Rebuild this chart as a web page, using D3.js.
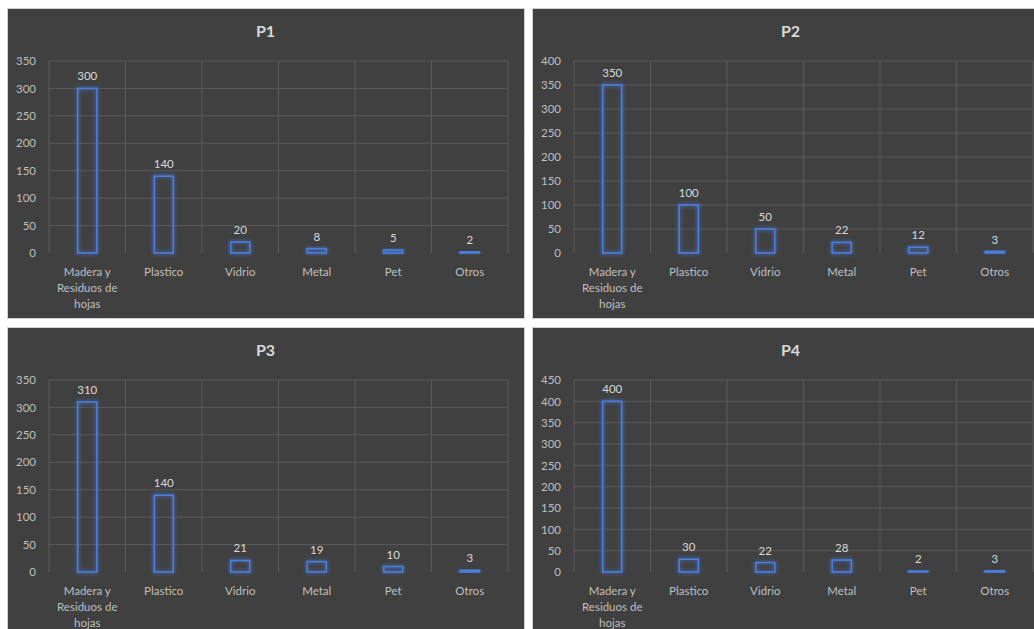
<!DOCTYPE html>
<html lang="es">
<head>
<meta charset="UTF-8">
<title>P1 - P4</title>
<script src="https://d3js.org/d3.v7.min.js"></script>
<style>
  body { margin: 0; background: #fff; }
  svg text { font-family: Lato, "Open Sans", sans-serif; }
</style>
</head>
<body>
<div id="chart"></div>
<script>
// data
const categories = ["Madera y Residuos de hojas", "Plastico", "Vidrio", "Metal", "Pet", "Otros"];
const panelTitles = ["P1", "P2", "P3", "P4"];
const p1Values = [300, 140, 20, 8, 5, 2];
const p2Values = [350, 100, 50, 22, 12, 3];
const p3Values = [310, 140, 21, 19, 10, 3];
const p4Values = [400, 30, 22, 28, 2, 3];
const yMaxes = [350, 400, 350, 450];
const tickStep = 50;

const seriesList = [p1Values, p2Values, p3Values, p4Values];

const W = 1034, H = 629;
const panelW = 517, panelH = 310;
const panelPos = [[7, 8], [532, 8], [7, 327], [532, 327]];
const margin = { left: 42, top: 53 };
const plotW = 459, plotH = 192;

const svg = d3.select("#chart").append("svg")
    .attr("width", W)
    .attr("height", H);

// blue glow for the bars
const defs = svg.append("defs");
const glow = defs.append("filter").attr("id", "glow")
    .attr("x", "-50%").attr("y", "-50%").attr("width", "200%").attr("height", "200%");
glow.append("feGaussianBlur").attr("in", "SourceGraphic").attr("stdDeviation", 2).attr("result", "blur");
const merge = glow.append("feMerge");
merge.append("feMergeNode").attr("in", "blur");
merge.append("feMergeNode").attr("in", "SourceGraphic");

function wrap(textSel, width) {
    textSel.each(function () {
        const text = d3.select(this);
        const words = text.text().split(/\s+/);
        const x = text.attr("x");
        const y = +text.attr("y");
        text.text(null);
        let line = [];
        let lineNo = 0;
        let tspan = text.append("tspan").attr("x", x).attr("y", y);
        words.forEach(function (w) {
            line.push(w);
            tspan.text(line.join(" "));
            if (tspan.node().getComputedTextLength() > width && line.length > 1) {
                line.pop();
                tspan.text(line.join(" "));
                line = [w];
                lineNo++;
                tspan = text.append("tspan").attr("x", x).attr("y", y + lineNo * 16).text(w);
            }
        });
    });
}

seriesList.forEach(function (values, i) {
    const [px, py] = panelPos[i];
    const panel = svg.append("g").attr("transform", `translate(${px},${py})`);

    panel.append("rect")
        .attr("x", 0.5).attr("y", 0.5)
        .attr("width", panelW).attr("height", panelH)
        .attr("fill", "#404040")
        .attr("stroke", "#d0d0d0");

    panel.append("text")
        .attr("x", panelW / 2)
        .attr("y", 29)
        .attr("text-anchor", "middle")
        .style("font-size", "16px")
        .style("font-weight", "bold")
        .style("fill", "#d9d9d9")
        .text(panelTitles[i]);

    const g = panel.append("g").attr("transform", `translate(${margin.left},${margin.top})`);

    const x = d3.scaleBand().domain(categories).range([0, plotW]).padding(0);
    const y = d3.scaleLinear().domain([0, yMaxes[i]]).range([plotH, 0]);
    const ticks = d3.range(0, yMaxes[i] + 1, tickStep);

    // gridlines
    g.selectAll(".hgrid")
        .data(ticks.filter(t => t > 0))
        .enter().append("line")
        .attr("x1", 0).attr("x2", plotW)
        .attr("y1", d => y(d)).attr("y2", d => y(d))
        .attr("stroke", "#5a5a5a").attr("stroke-width", 1);

    g.selectAll(".vgrid")
        .data(d3.range(categories.length + 1))
        .enter().append("line")
        .attr("x1", d => d * x.bandwidth()).attr("x2", d => d * x.bandwidth())
        .attr("y1", 0).attr("y2", plotH)
        .attr("stroke", "#5a5a5a").attr("stroke-width", 1);

    // y axis labels
    const yAxis = d3.axisLeft(y).tickValues(ticks).tickSize(0).tickPadding(13);
    const ya = g.append("g").call(yAxis);
    ya.select(".domain").remove();
    ya.selectAll("text")
        .style("font-size", "11.5px")
        .style("fill", "#bfbfbf")
        .style("font-family", "Lato, sans-serif");

    // bars
    const barW = x.bandwidth() * 0.25;
    g.selectAll(".bar")
        .data(values)
        .enter().append("rect")
        .attr("x", (d, j) => x(categories[j]) + x.bandwidth() / 2 - barW / 2)
        .attr("y", d => y(d))
        .attr("width", barW)
        .attr("height", d => Math.max(0.5, plotH - y(d)))
        .attr("fill", "none")
        .attr("stroke", "#4a7de0")
        .attr("stroke-width", 1.6)
        .attr("filter", "url(#glow)");

    // data labels
    g.selectAll(".lbl")
        .data(values)
        .enter().append("text")
        .attr("x", (d, j) => x(categories[j]) + x.bandwidth() / 2)
        .attr("y", d => y(d) - 8)
        .attr("text-anchor", "middle")
        .style("font-size", "11.5px")
        .style("fill", "#d9d9d9")
        .text(d => d);

    // category labels
    g.selectAll(".cat")
        .data(categories)
        .enter().append("text")
        .attr("x", d => x(d) + x.bandwidth() / 2)
        .attr("y", plotH + 23)
        .attr("text-anchor", "middle")
        .style("font-size", "11.5px")
        .style("fill", "#bfbfbf")
        .text(d => d)
        .call(wrap, x.bandwidth() - 10);
});
</script>
</body>
</html>
